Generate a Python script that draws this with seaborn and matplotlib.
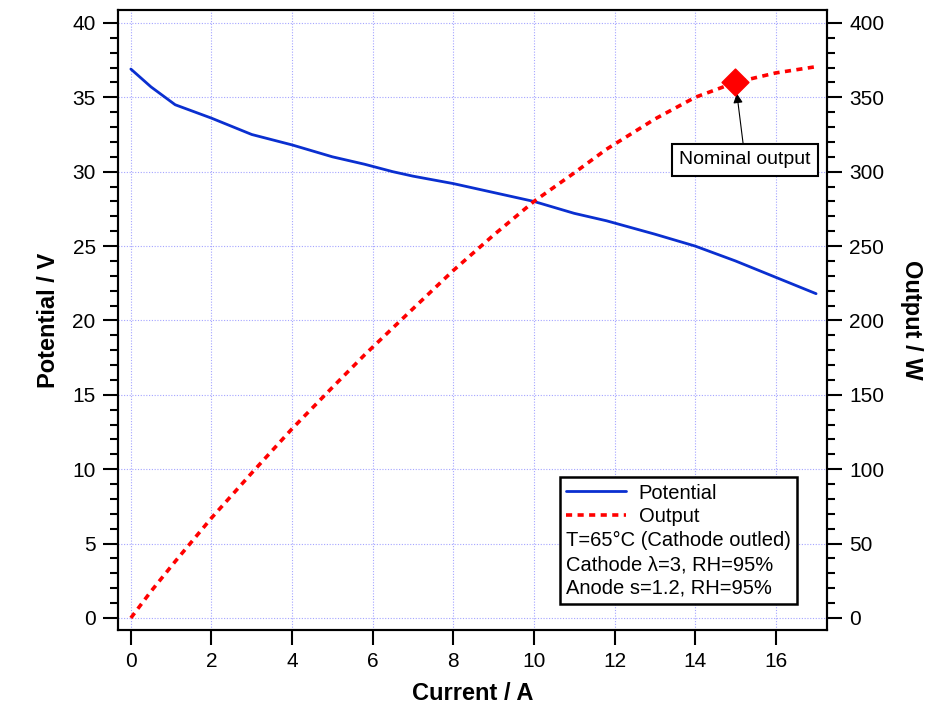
import numpy as np
import pandas as pd
import seaborn as sns
import matplotlib
matplotlib.use('Agg')
import matplotlib.pyplot as plt
from matplotlib.ticker import MultipleLocator
from matplotlib.lines import Line2D

# =============================================================================
# Data
# =============================================================================
current = [0, 0.5, 1.1, 2, 3, 4, 5, 5.8, 6.5, 7, 8, 9, 10, 11, 11.8, 13, 14, 15, 16, 17]
potential = [36.9, 35.7, 34.5, 33.6, 32.5, 31.8, 31.0, 30.5, 30.0, 29.7, 29.2, 28.6,
             28.0, 27.2, 26.7, 25.8, 25.0, 24.0, 22.9, 21.8]
output = [0, 17.9, 38.0, 67.2, 97.5, 127.2, 155.0, 176.9, 195.0, 207.9, 233.6, 257.4,
          280.0, 299.2, 315.1, 335.4, 350.0, 360.0, 366.4, 370.6]
nominal_current = [15]
nominal_output = [360]
info_lines = ['T=65°C (Cathode outled)', 'Cathode λ=3, RH=95%', 'Anode s=1.2, RH=95%']

df = pd.DataFrame({'current': current, 'potential': potential, 'output': output})
nom = pd.DataFrame({'current': nominal_current, 'output': nominal_output})

# =============================================================================
# Plot
# =============================================================================
sns.set_style('ticks')
plt.rcParams['font.family'] = ['Liberation Sans', 'DejaVu Sans']
for k in ['text.color', 'axes.labelcolor', 'xtick.color', 'ytick.color',
          'xtick.labelcolor', 'ytick.labelcolor']:
    plt.rcParams[k] = 'black'

fig = plt.figure(figsize=(9.49, 7.04), dpi=100)
ax = fig.add_axes([0.1243, 0.1051, 0.7471, 0.8807])
ax2 = ax.twinx()

blue = '#0a2fd0'
sns.lineplot(data=df, x='current', y='potential', ax=ax, color=blue, lw=2.0,
             label='Potential', legend=False)
sns.lineplot(data=df, x='current', y='output', ax=ax2, color='red', lw=2.6,
             linestyle=(0, (1.7, 1.5)), label='Output', legend=False)
sns.scatterplot(data=nom, x='current', y='output', ax=ax2, marker='D', s=185,
                color='red', edgecolor='red', zorder=5, legend=False)

ax.set_xlim(-0.32, 17.27)
ax.set_ylim(-0.81, 40.87)
ax2.set_ylim(-8.1, 408.7)

ax.xaxis.set_major_locator(MultipleLocator(2))
ax.yaxis.set_major_locator(MultipleLocator(5))
ax.yaxis.set_minor_locator(MultipleLocator(1))
ax2.yaxis.set_major_locator(MultipleLocator(50))
ax2.yaxis.set_minor_locator(MultipleLocator(10))

ax.grid(True, which='major', color='#a5a5ff', ls=(0, (1, 1.5)), lw=0.8)

for a in (ax, ax2):
    a.tick_params(which='major', length=11, width=1.5, labelsize=15, color='black',
                  labelcolor='black', pad=5)
    a.tick_params(which='minor', length=6, width=1.5, color='black')
    for s in a.spines.values():
        s.set_linewidth(1.5)
        s.set_color('black')
        s.set_visible(True)

ax.set_xlabel('Current / A', fontsize=17, fontweight='bold', labelpad=8)
ax.set_ylabel('Potential / V', fontsize=17, fontweight='bold', labelpad=9)
ax2.set_ylabel('Output / W', fontsize=17, fontweight='bold', rotation=270, labelpad=28)

# annotation for nominal output
ax2.annotate('Nominal output', xy=(15, 360), xytext=(15.24, 308),
             ha='center', va='center', fontsize=14,
             bbox=dict(boxstyle='square,pad=0.38', fc='white', ec='black', lw=1.5),
             arrowprops=dict(arrowstyle='-|>', color='black', lw=0.8,
                             shrinkA=0, shrinkB=8, mutation_scale=14))

# legend with the extra text lines
handles = [Line2D([], [], color=blue, lw=2.0),
           Line2D([], [], color='red', lw=2.6, ls=(0, (1.7, 1.5)))]
handles += [Line2D([], [], color='none') for _ in info_lines]
labels = ['Potential', 'Output'] + info_lines
leg = ax2.legend(handles, labels, loc='lower right', bbox_to_anchor=(0.9577, 0.042),
                 borderaxespad=0, fontsize=14.5, frameon=True, fancybox=False,
                 handlelength=3.0, handletextpad=0.6, labelspacing=0.24,
                 borderpad=0.3)
leg.get_frame().set_edgecolor('black')
leg.get_frame().set_linewidth(1.8)
leg.get_frame().set_alpha(1)
# pull the plain text lines to the left edge
col = leg._legend_handle_box.get_children()[0]
for row in col.get_children()[2:]:
    da, ta = row.get_children()
    da.width = 0
    row.sep = 0

fig.savefig('out.png', dpi=100)
